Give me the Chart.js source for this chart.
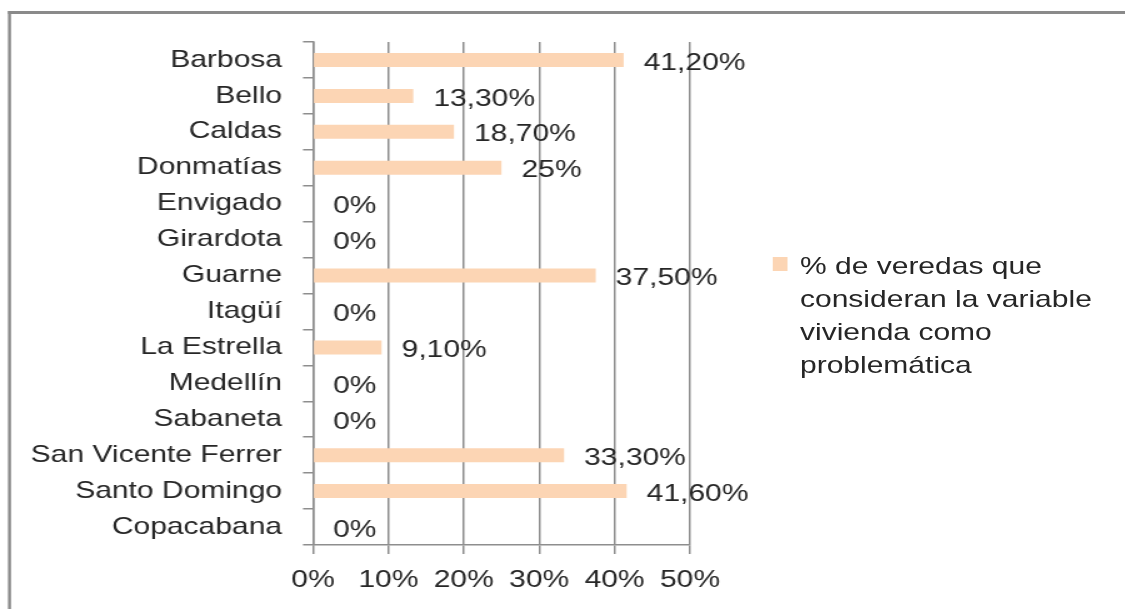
<!DOCTYPE html>
<html>
<head>
<meta charset="utf-8">
<script src="https://cdn.jsdelivr.net/npm/chart.js@4.4.1/dist/chart.umd.min.js"></script>
<style>
  html, body { margin: 0; padding: 0; background: #fff; overflow: hidden; }
  /* the reference is stretched sideways, so draw narrower and widen it */
  #wrap { position: relative; width: 900px; height: 609px; transform: scaleX(1.25); transform-origin: 0 0; }
  #legend { position: absolute; left: 618.4px; top: 249px; font-family: "Liberation Sans", Arial, sans-serif;
            font-size: 24px; line-height: 33px; color: #262626; }
  #legend .box { position: absolute; left: 0; top: 8px; width: 11.2px; height: 14px; background: #fcd5b4; }
  #legend .txt { position: absolute; left: 21.6px; top: 0; white-space: nowrap; }
</style>
</head>
<body>
<div id="wrap">
  <canvas id="chart" width="900" height="609"></canvas>
  <div id="legend"><div class="box"></div><div class="txt" id="legendText"></div></div>
</div>
<script>
// municipios
const categories = ['Barbosa', 'Bello', 'Caldas', 'Donmatías', 'Envigado', 'Girardota', 'Guarne',
    'Itagüí', 'La Estrella', 'Medellín', 'Sabaneta', 'San Vicente Ferrer', 'Santo Domingo', 'Copacabana'];
const values = [41.2, 13.3, 18.7, 25, 0, 0, 37.5, 0, 9.1, 0, 0, 33.3, 41.6, 0];
const valueLabels = ['41,20%', '13,30%', '18,70%', '25%', '0%', '0%', '37,50%', '0%', '9,10%', '0%', '0%',
    '33,30%', '41,60%', '0%'];
const xTicks = [0, 10, 20, 30, 40, 50];
const legendLines = ['% de veredas que', 'consideran la variable', 'vivienda como', 'problemática'];

const FONT = '"Liberation Sans", Arial, sans-serif';
const FSIZE = 24;
const TEXT = '#262626';
const GRID = '#8e8e8e';

document.getElementById('legendText').innerHTML = legendLines.join('<br>');

// outer frame (only top and left edges show in the picture)
const framePlugin = {
    id: 'frame',
    beforeDraw(chart) {
        const ctx = chart.ctx;
        ctx.save();
        ctx.fillStyle = '#8a8a8a';
        ctx.fillRect(6.4, 11, 2.4, chart.height);
        ctx.fillRect(6.4, 11, chart.width, 3);
        ctx.restore();
    }
};

// value labels just right of each bar end
const labelPlugin = {
    id: 'valueLabels',
    afterDatasetsDraw(chart) {
        const ctx = chart.ctx;
        const meta = chart.getDatasetMeta(0);
        ctx.save();
        ctx.font = FSIZE + 'px ' + FONT;
        ctx.fillStyle = TEXT;
        ctx.textAlign = 'left';
        ctx.textBaseline = 'middle';
        meta.data.forEach((bar, i) => {
            ctx.fillText(valueLabels[i], bar.x + 16, bar.y + 3);
        });
        ctx.restore();
    }
};

new Chart(document.getElementById('chart'), {
    type: 'bar',
    data: {
        labels: categories,
        datasets: [{
            label: legendLines.join(' '),
            data: values,
            backgroundColor: '#fcd5b4',
            borderWidth: 0,
            barPercentage: 0.39,
            categoryPercentage: 1
        }]
    },
    options: {
        indexAxis: 'y',
        responsive: false,
        animation: false,
        devicePixelRatio: 1,
        layout: { padding: { left: 0, top: 42, right: 348, bottom: 0 } },
        plugins: {
            legend: { display: false },
            tooltip: { enabled: false }
        },
        scales: {
            x: {
                min: 0,
                max: 50,
                afterBuildTicks(scale) { scale.ticks = xTicks.map(v => ({ value: v })); },
                afterFit(scale) { scale.height = 64; },
                ticks: {
                    callback: v => v + '%',
                    color: TEXT,
                    font: { family: FONT, size: FSIZE },
                    padding: 12,
                    maxRotation: 0
                },
                grid: { color: GRID, lineWidth: 1.5, tickLength: 9 },
                border: { color: GRID, width: 1.5 }
            },
            y: {
                afterFit(scale) { scale.width = 250.4; },
                ticks: {
                    color: TEXT,
                    font: { family: FONT, size: FSIZE },
                    padding: 16.8,
                    autoSkip: false
                },
                grid: { drawOnChartArea: false, color: GRID, lineWidth: 1.5, tickLength: 8 },
                border: { color: GRID, width: 1.5 }
            }
        }
    },
    plugins: [framePlugin, labelPlugin]
});
</script>
</body>
</html>
